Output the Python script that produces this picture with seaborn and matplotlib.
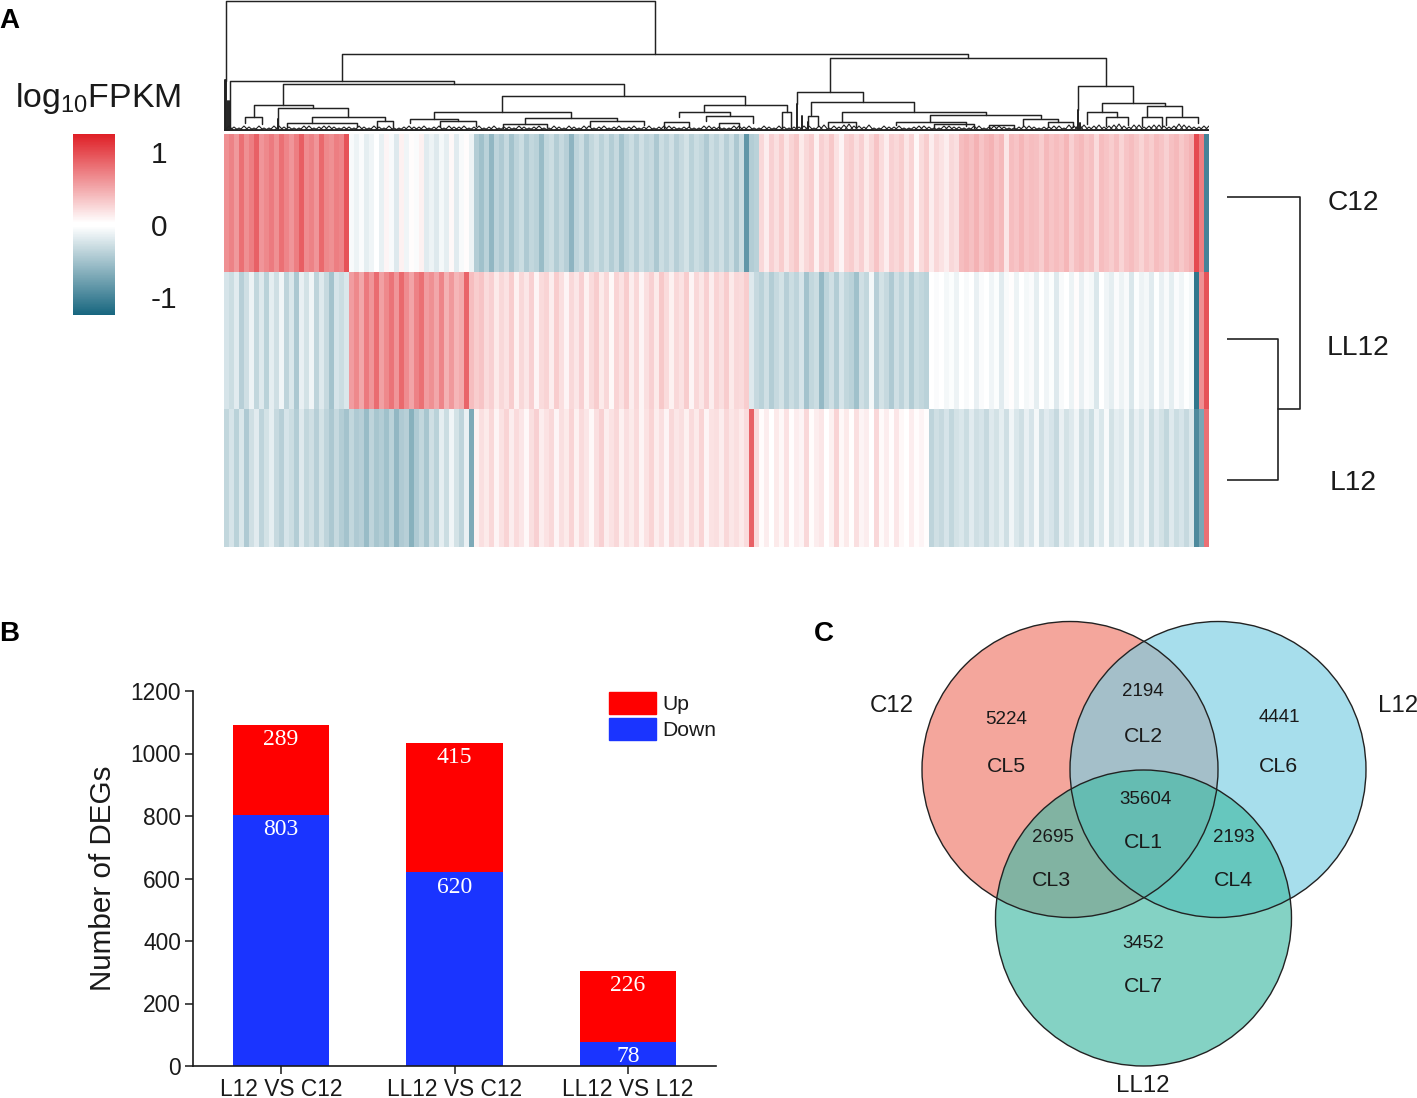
import matplotlib
matplotlib.use("Agg")
import matplotlib.pyplot as plt
from matplotlib.colors import LinearSegmentedColormap
from matplotlib.patches import Circle, Patch
import numpy as np
import pandas as pd
import seaborn as sns

# --- panel A: heatmap stripes, log10FPKM per column (read block by block) ---
sample_names = ["C12", "LL12", "L12"]

c12_red = [.62, .70, .58, .80, .62, .72, .88, .60, .66, .74,
           .62, .80, .68, .60, .72, .90, .64, .70, .60, .84,
           .66, .62, .72, .68, .95]
c12_pale = [-.06, -.12, -.05, -.16, -.10, .02, -.14, .08, -.06, -.20,
            .10, -.10, .04, -.05, .10, -.18, -.12, -.20, -.08, -.16,
            .06, -.18, -.06, .04, -.12]
c12_teal = [-.42, -.52, -.38, -.60, -.36, -.44, -.32, -.50, -.36, -.30,
            -.44, -.34, -.38, -.56, -.34, -.30, -.42, -.32, -.40, -.62,
            -.36, -.30, -.46, -.34, -.28, -.38, -.30, -.42, -.32, -.50,
            -.36, -.30, -.40, -.28, -.36, -.32, -.46, -.30, -.36, -.28,
            -.40, -.32, -.26, -.38, -.30, -.34, -.44, -.30, -.36, -.28,
            -.40, -.30, -.46, -.30, -.85, -.42, -.38]
c12_pink = [.24, .12, .28, .20, .30, .16, .26, .32, .14, .24,
            .30, .10, .28, .22, .32, .18, .08, .26, .30, .20,
            .28, .14, .24, .34, .22, .12, .28, .24, .30, .16,
            .26, .06, .22, .30, .12, .24, .18, .12, .24, .20,
            .38, .42, .36, .44, .34, .40, .44, .34, .40, .16,
            .38, .34, .42, .34, .38, .36, .30, .40, .34, .38,
            .34, .42, .28, .36, .40, .32, .36, .22, .38, .34,
            .30, .36, .26, .34, .38, .32, .26, .34, .30, .38,
            .34, .28, .36, .40, .32, .38, .44]
c12_end = [1.0, .72, -1.0]

ll12_teal = [-.24, -.30, -.18, -.40, -.28, -.12, -.34, -.20, -.38, -.16,
             -.28, -.10, -.36, -.22, -.46, -.14, -.26, -.10, -.36, -.20,
             -.32, -.50, -.24, -.30, -.22]
ll12_red = [.56, .66, .50, .74, .60, .82, .54, .66, .78, .60,
            .84, .64, .52, .70, .80, .56, .62, .50, .68, .44,
            .58, .42, .48, .86]
ll12_pink = [.38, .30, .34, .22, .28, .14, .24, .18, .30, .10,
             .24, .16, .28, .08, .22, .26, .12, .30, .20, .08,
             .24, .16, .28, .10, .22, .30, .14, .24, .06, .26,
             .18, .30, .12, .24, .08, .20, .28, .14, .32, .22,
             .10, .24, .18, .30, .08, .24, .16, .28, .12, .26,
             .20, .30, .14, .24, .22, .30]
ll12_teal2 = [-.20, -.32, -.38, -.28, -.42, -.32, -.26, -.40, -.30, -.36,
              -.24, -.50, -.34, -.30, -.58, -.36, -.28, -.42, -.24, -.34,
              -.38, -.52, -.28, -.34, -.08, -.40, -.26, -.32, -.44, -.28,
              -.36, -.26, -.42, -.30, -.34, -.38]
ll12_white = [-.02, -.05, .02, -.08, -.04, -.12, .02, -.06, -.02, -.14,
              -.05, .02, -.10, -.04, -.18, -.06, .03, -.12, -.02, -.08,
              -.05, -.16, .02, -.10, -.04, -.20, -.06, -.02, -.12, .04,
              -.14, -.05, -.08, -.22, -.02, -.10, -.16, -.05, -.12, -.06,
              -.22, -.04, -.12, -.08, -.18, -.03, -.14, -.06, -.16, -.05,
              -.10, -.03, -.08]
ll12_end = [-1.1, .62, .95]

l12_teal = [-.34, -.24, -.38, -.22, -.44, -.28, -.18, -.36, -.26, -.16,
            -.32, -.40, -.24, -.30, -.42, -.20, -.34, -.28, -.40, -.26,
            -.36, -.46, -.32, -.42, -.50, -.34, -.44, -.40, -.56, -.36,
            -.48, -.42, -.52, -.38, -.60, -.44, -.40, -.64, -.44, -.34,
            -.48, -.28, -.38, -.16, -.30, -.10, -.26, -.36, -.14, -.70]
l12_pink = [.10, .20, .14, .24, .08, .18, .26, .12, .22, .16,
            .06, .20, .28, .12, .18, .24, .08, .20, .14, .26,
            .10, .22, .16, .06, .20, .28, .12, .18, .24, .10,
            .20, .14, .22, .08, .18, .26, .12, .20, .08, .24,
            .16, .20, .10, .22, .14, .26, .08, .18, .20, .12,
            .24, .16, .20, .14, .22]
l12_spike = [.88]
l12_faint = [.22, .04, .12, .02, .14, .06, .18, .03, .12, .08,
             .24, .04, .12, .16, .02, .10, .26, .06, .14, .03,
             .20, .08, .12, .02, .24, .05, .12, .03, .16, .06,
             .02, .12, .04, .08, .03]
l12_teal2 = [-.36, -.28, -.32, -.24, -.34, -.26, -.22, -.30, -.18, -.28,
             -.24, -.32, -.20, -.26, -.16, -.28, -.10, -.22, -.28, -.14,
             -.24, -.08, -.28, -.18, -.24, -.32, -.14, -.26, -.20, -.10,
             -.28, -.18, -.30, -.12, -.22, -.06, -.26, -.16, -.20, -.08,
             -.28, -.14, -.22, -.10, -.30, -.18, -.26, -.34, -.20, -.30,
             -.24, -.32, -.22]
l12_end = [-.95, -.72, .80]

heat_rows = [
    c12_red + c12_pale + c12_teal + c12_pink + c12_end,
    ll12_teal + ll12_red + ll12_pink + ll12_teal2 + ll12_white + ll12_end,
    l12_teal + l12_pink + l12_spike + l12_faint + l12_teal2 + l12_end,
]

# column dendrogram: left pos, right pos, height, left child height, right child height
col_merges = [
    [0.4, 86.2, 130, 50, 77], [23.6, 148.8, 77, 50, 73], [1.2, 46.0, 50, 2, 47],
    [11.8, 80.0, 47, 26, 35], [55.6, 104.2, 35, 19, 26], [42.0, 69.4, 19, 12, 13],
    [96.0, 112.6, 26, 19, 19], [91.0, 101.2, 19, 14, 15], [96.4, 105.8, 15, 10, 8],
    [111.6, 113.4, 19, 2, 2], [121.2, 176.4, 73, 39, 45], [114.6, 127.8, 39, 27, 29],
    [117.4, 138.0, 29, 16, 19], [123.6, 152.4, 19, 9, 16], [141.2, 163.4, 16, 9, 13],
    [170.8, 181.8, 45, 21, 28], [175.6, 188.2, 28, 19, 25], [184.6, 191.6, 25, 14, 15],
    [172.6, 178.6, 19, 7, 14], [6.0, 17.8, 26, 14, 23], [10.8, 24.8, 23, 2, 14],
    [4.2, 7.6, 14, 8, 7], [17.6, 32.2, 14, 8, 10], [12.6, 26.6, 8, 4, 4],
    [30.6, 33.8, 10, 3, 4], [37.2, 46.8, 12, 8, 10], [43.2, 50.4, 10, 4, 5],
    [60.2, 78.6, 13, 7, 10], [55.8, 64.6, 7, 3, 4], [73.2, 84.0, 10, 5, 6],
    [120.8, 126.4, 9, 4, 4], [116.8, 118.8, 15, 6, 5], [134.4, 148.4, 9, 6, 5],
    [159.8, 166.8, 12, 5, 9], [164.8, 169.8, 9, 4, 4], [176.4, 180.8, 14, 5, 6],
    [183.6, 187.6, 14, 5, 5], [188.4, 194.8, 14, 6, 8], [142.0, 150.0, 7, 3, 3],
    [153.0, 158.0, 6, 3, 3], [88.0, 93.0, 9, 3, 4], [99.0, 103.0, 8, 3, 3],
]
col_trunks = [[0.1, 51], [0.4, 51], [0.7, 30], [1.2, 30], [10.8, 12], [114.6, 27],
              [115.6, 15], [170.8, 21], [171.2, 8], [116.8, 9]]
# small twig heights, one per two columns; second list sits one column further on
twig_heights = [5, 3, 4, 5, 3, 5, 4, 3, 5, 4, 5, 3, 4, 5,
                3, 4, 5, 3, 5, 4, 3, 5, 5, 4, 3, 5, 4, 3,
                4, 5, 3, 5, 3, 4, 5, 3, 5, 4, 3, 5, 4, 3,
                5, 4, 5, 3, 4, 3, 5, 4, 3, 5, 5, 3, 4, 5,
                3, 4, 5, 5, 3, 4, 7, 5, 6, 3, 4, 5, 3, 5,
                4, 3, 5, 4, 3, 5, 4, 5, 3, 4, 5, 3, 4, 5,
                6, 7, 4, 6, 5, 7, 4, 6, 5, 6, 4, 7, 5, 4, 5]
twig_heights_b = [4, 5, 3, 3, 5, 4, 3, 5, 3, 5, 4, 4, 3, 4,
                  5, 3, 3, 4, 4, 5, 4, 3, 4, 5, 4, 3, 5, 4,
                  3, 4, 4, 3, 5, 3, 4, 5, 3, 5, 4, 3, 5, 4,
                  3, 5, 4, 4, 3, 5, 4, 3, 5, 4, 3, 5, 3, 4,
                  4, 5, 3, 6, 5, 6, 5, 4, 3, 5, 4, 3, 4, 5,
                  3, 5, 4, 3, 5, 3, 5, 4, 3, 5, 4, 4, 5, 3,
                  5, 6, 5, 4, 6, 5, 6, 4, 6, 5, 5, 6, 4, 5]

# row dendrogram: sample position, distance
row_merges = [[1.49, 2.51, 51, 0, 0], [0.46, 2.0, 73, 0, 51]]

cbar_ticks = [-1, 0, 1]

# --- panel B ---
comparisons = ["L12 VS C12", "LL12 VS C12", "LL12 VS L12"]
down_counts = [803, 620, 78]
up_counts = [289, 415, 226]

# --- panel C ---
venn_sets = ["C12", "L12", "LL12"]
venn_counts = [5224, 2194, 4441, 35604, 2695, 2193, 3452]
venn_clusters = ["CL5", "CL2", "CL6", "CL1", "CL3", "CL4", "CL7"]

W, H = 1417, 1098
sns.set_theme(style="ticks")
plt.rcParams["font.family"] = ["Liberation Sans", "DejaVu Sans"]
plt.rcParams["mathtext.fontset"] = "custom"
plt.rcParams["mathtext.rm"] = "Liberation Sans"
plt.rcParams["mathtext.default"] = "rm"
TXT = "#1a1a1a"

fig = plt.figure(figsize=(W / 100, H / 100), dpi=100)


def px_axes(left, top, right, bottom):
    return fig.add_axes([left / W, 1 - bottom / H, (right - left) / W, (bottom - top) / H])


# heatmap + colour bar
cmap = LinearSegmentedColormap.from_list(
    "teal_red", [(0, "#17667f"), (0.49, "#ffffff"), (0.51, "#ffffff"), (1, "#df1f26")])
df = pd.DataFrame(heat_rows, index=sample_names)
ax_heat = px_axes(224, 134, 1209, 547)
ax_cbar = px_axes(73, 134, 115, 315)
sns.heatmap(df, cmap=cmap, vmin=-1.24, vmax=1.24, ax=ax_heat, cbar_ax=ax_cbar,
            xticklabels=False, yticklabels=False, cbar_kws={"ticks": cbar_ticks})
ax_heat.set_xlabel("")
ax_heat.set_ylabel("")
ax_cbar.tick_params(length=0, labelsize=21.5, pad=26, labelcolor=TXT)
ax_cbar.set_yticklabels(["-1", "0", "1"])
for s in ax_cbar.spines.values():
    s.set_visible(False)

# column dendrogram
ax_den = px_axes(224, 0, 1209, 131)
for xl, xr, h, hl, hr in col_merges:
    ax_den.plot([xl, xl, xr, xr], [hl, h, h, hr], color="#222222", lw=1.05)
for x, h in col_trunks:
    ax_den.plot([x, x], [0, h], color="#222222", lw=1.4)
for i, h in enumerate(twig_heights):
    ax_den.plot([i * 2, i * 2 + 1, i * 2 + 2], [0, h, 0], color="#222222", lw=0.8)
for i, h in enumerate(twig_heights_b):
    ax_den.plot([i * 2 + 1, i * 2 + 2, i * 2 + 3], [0, h, 0], color="#222222", lw=0.8)
ax_den.axhline(1.0, color="#222222", lw=2.0)
ax_den.set_xlim(0, df.shape[1])
ax_den.set_ylim(0, 131)
ax_den.axis("off")

# row dendrogram, sits right of the heatmap on the same rows
ax_rows = px_axes(1227, 134, 1302, 547)
for y1, y2, d, d1, d2 in row_merges:
    ax_rows.plot([d1, d, d, d2], [y1, y1, y2, y2], color="#222222", lw=1.2)
ax_rows.set_xlim(0, 75)
ax_rows.set_ylim(3, 0)
ax_rows.axis("off")

# stacked bars
ax_bar = px_axes(193, 691, 716, 1066)
bars = pd.DataFrame({"comparison": comparisons, "down": down_counts, "up": up_counts})
sns.barplot(data=bars, x="comparison", y="down", color="#1a34ff", saturation=1, width=0.555,
            linewidth=0, ax=ax_bar)
sns.barplot(data=bars, x="comparison", y="up", bottom=bars["down"], color="#ff0000", saturation=1,
            width=0.555, linewidth=0, ax=ax_bar)
ax_bar.set_xlim(-0.507, 2.507)
ax_bar.set_ylim(0, 1200)
ax_bar.set_yticks(range(0, 1201, 200))
ax_bar.set_xlabel("")
ax_bar.set_ylabel("Number of DEGs", fontsize=21.3, color=TXT, labelpad=10)
ax_bar.tick_params(axis="both", labelsize=16.4, length=5.5, width=1.1, color=TXT, labelcolor=TXT, pad=3)
sns.despine(ax=ax_bar)
for side in ["left", "bottom"]:
    ax_bar.spines[side].set_linewidth(1.2)
    ax_bar.spines[side].set_color(TXT)
for i, (d, u) in enumerate(zip(down_counts, up_counts)):
    for top, val in [(d, d), (d + u, u)]:
        ax_bar.annotate(str(val), (i, top), xytext=(0, -10.7), textcoords="offset points", ha="center",
                        va="center", color="white", fontsize=17, family="Liberation Serif")
ax_bar.legend(handles=[Patch(color="#ff0000", label="Up"), Patch(color="#1a34ff", label="Down")],
              loc="upper left", bbox_to_anchor=(609 / W, 1 - 692 / H), bbox_transform=fig.transFigure,
              frameon=False, fontsize=15.2, handlelength=2.24, handleheight=1.2, handletextpad=0.3,
              labelspacing=0.2, borderpad=0, borderaxespad=0, labelcolor=TXT)

# overlay in picture pixels: panel letters, sample labels, Venn
ov = fig.add_axes([0, 0, 1, 1], facecolor="none")
ov.set_xlim(0, W)
ov.set_ylim(H, 0)
ov.axis("off")

for (x, y), letter in zip([(-1, 21), (-1, 634), (814, 634)], "ABC"):
    ov.text(x, y, letter, fontsize=20, fontweight="bold", color="black", va="center")
ov.text(15, 99, "log$_{10}$FPKM", fontsize=24.4, color=TXT, va="center")
for (x, y), name in zip([(1353, 203), (1358, 348), (1353, 483)], sample_names):
    ov.text(x, y, name, fontsize=20.3, color=TXT, ha="center", va="center")

circles = [(1070, 769.5, "#f4a69c", 1), (1218, 769.5, "#79cde2", 0.65), (1143.5, 918, "#45bba6", 0.66)]
for cx, cy, col, alpha in circles:
    ov.add_patch(Circle((cx, cy), 148, facecolor=col, edgecolor="none", alpha=alpha))
for cx, cy, col, alpha in circles:
    ov.add_patch(Circle((cx, cy), 148, facecolor="none", edgecolor="#222222", lw=1.0))
for (x, y), name, va in zip([(892, 706), (1398, 706), (1143, 1092)], venn_sets, ["center", "center", "baseline"]):
    ov.text(x, y, name, fontsize=17.3, color=TXT, ha="center", va=va)
count_xy = [(1006, 719), (1143, 692), (1279, 718), (1145, 800), (1053, 838), (1234, 838), (1143, 944)]
cluster_xy = [(1006, 767), (1143, 736), (1278, 766), (1143, 842), (1051, 880), (1233, 880), (1143, 986)]
for (x, y), val in zip(count_xy, venn_counts):
    ov.text(x, y, str(val), fontsize=13.5, color=TXT, ha="center", va="center")
for (x, y), name in zip(cluster_xy, venn_clusters):
    ov.text(x, y, name, fontsize=15.3, color=TXT, ha="center", va="center")

fig.savefig("out.png", dpi=100)
